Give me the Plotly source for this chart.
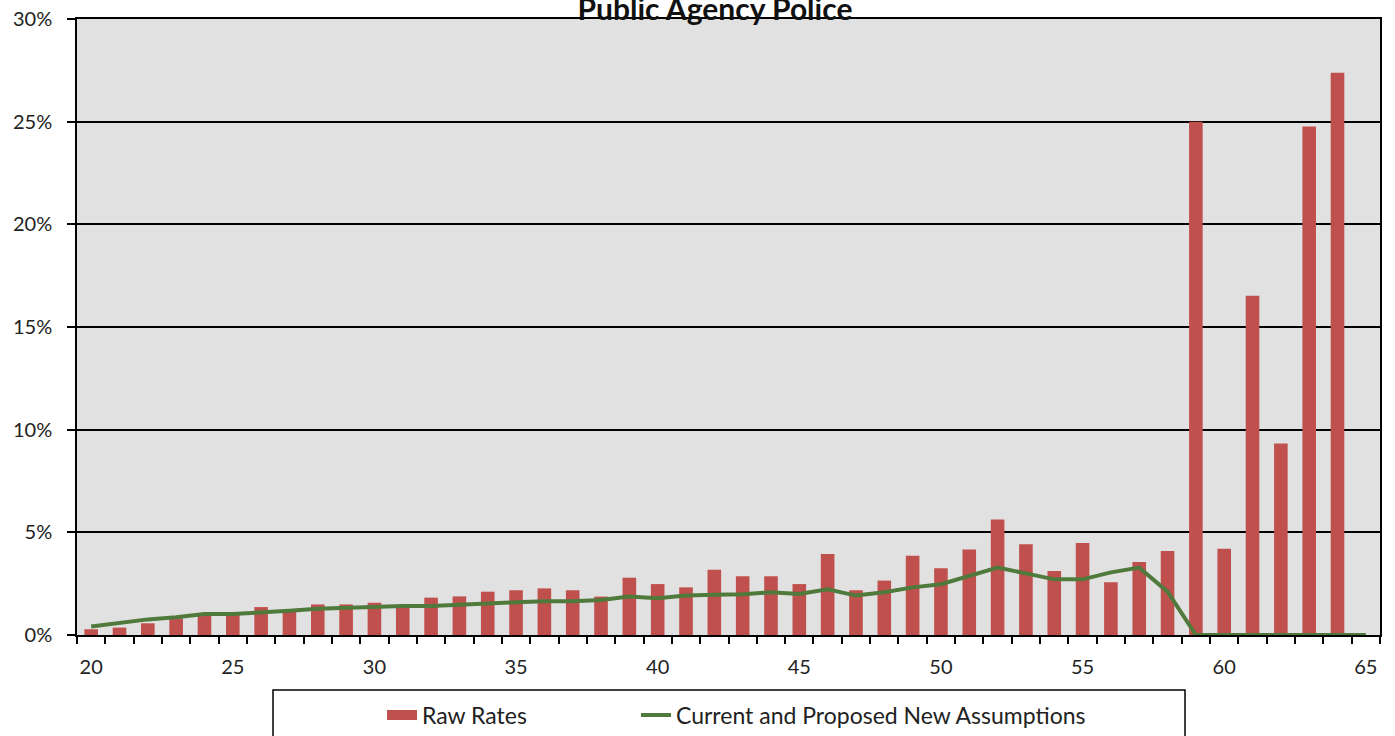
import plotly.graph_objects as go

ages = list(range(20, 66))

raw_rates_pct = [
    0.28, 0.36, 0.57, 0.81, 0.97, 1.00, 1.36, 1.14, 1.49, 1.49,
    1.57, 1.43, 1.82, 1.88, 2.11, 2.18, 2.27, 2.18, 1.87, 2.79,
    2.48, 2.32, 3.18, 2.86, 2.86, 2.48, 3.95, 2.18, 2.65, 3.86,
    3.25, 4.17, 5.63, 4.42, 3.12, 4.48, 2.57, 3.56, 4.09, 25.00,
    4.20, 16.52, 9.33, 24.77, 27.38, 0.00,
]

assumptions_pct = [
    0.41, 0.60, 0.76, 0.86, 1.02, 1.02, 1.09, 1.18, 1.28, 1.33,
    1.36, 1.41, 1.41, 1.48, 1.54, 1.59, 1.64, 1.64, 1.70, 1.87,
    1.79, 1.92, 1.96, 1.98, 2.08, 2.00, 2.23, 1.92, 2.08, 2.32,
    2.47, 2.85, 3.28, 3.00, 2.71, 2.71, 3.05, 3.28, 2.11, 0.00,
    0.00, 0.00, 0.00, 0.00, 0.00, 0.00,
]

x_tick_vals = [20, 25, 30, 35, 40, 45, 50, 55, 60, 65]
y_tick_vals = [0, 0.05, 0.10, 0.15, 0.20, 0.25, 0.30]

title_text = "Public Agency Police"
bar_name = "Raw Rates"
line_name = "Current and Proposed New Assumptions"

BAR_COLOR = "#C0504D"
LINE_COLOR = "#4F7A3C"
FONT = "Lato, 'Open Sans', sans-serif"

fig = go.Figure()
fig.add_trace(go.Bar(
    x=ages, y=[v / 100 for v in raw_rates_pct], name=bar_name,
    marker=dict(color=BAR_COLOR, line=dict(width=0)), width=0.48,
    showlegend=False, legendgroup="raw",
))
# legend entry for the bars (wide swatch like the original)
fig.add_trace(go.Scatter(
    x=[None], y=[None], name=bar_name, mode="lines",
    line=dict(color=BAR_COLOR, width=14), legendgroup="raw",
    legendwidth=209,
))
fig.add_trace(go.Scatter(
    x=ages, y=[v / 100 for v in assumptions_pct], name=line_name,
    mode="lines", line=dict(color=LINE_COLOR, width=4),
))

boundaries = [a - 0.5 for a in ages] + [ages[-1] + 0.5]

fig.update_layout(
    width=1395, height=736,
    margin=dict(l=77, r=15, t=19, b=101, autoexpand=False),
    paper_bgcolor="white", plot_bgcolor="#E1E1E1",
    font=dict(family=FONT, size=20, color="#222222"),
    showlegend=True,
    title=dict(text="<b>" + title_text + "</b>", x=715 / 1395, xanchor="center",
               yref="container", y=1 - 20 / 736, yanchor="bottom",
               font=dict(size=30, color="#111111", family=FONT)),
    legend=dict(orientation="h", x=(382 - 77) / 1303, xanchor="left", y=-0.13, yanchor="middle",
                bgcolor="rgba(0,0,0,0)", borderwidth=0,
                font=dict(size=23, family=FONT, color="#222222"),
                entrywidthmode="pixels"),
    hovermode=False,
)

fig.update_xaxes(
    range=[19.5, 65.5], tickmode="array", tickvals=x_tick_vals,
    ticks="outside", ticklen=0, tickcolor="black",
    ticklabelstandoff=13, automargin=False,
    minor=dict(tickmode="array", tickvals=boundaries, ticks="outside",
               ticklen=7, tickwidth=1.5, tickcolor="black", showgrid=False),
    showgrid=False, zeroline=False,
    showline=True, linecolor="black", linewidth=1.5, mirror=True,
)
fig.update_yaxes(
    range=[0, 0.30], tickmode="array", tickvals=y_tick_vals, tickformat=".0%",
    ticks="outside", ticklen=8, tickwidth=1.5, tickcolor="black",
    ticklabelstandoff=11, automargin=False,
    showgrid=True, gridcolor="black", gridwidth=1.5, zeroline=False,
    showline=True, linecolor="black", linewidth=1.5, mirror=True,
)

# legend frame
fig.add_shape(type="rect", xref="paper", yref="paper",
              x0=(273 - 77) / 1303, x1=(1185 - 77) / 1303,
              y0=-(690 - 635) / 616, y1=-(760 - 635) / 616,
              line=dict(color="black", width=1.5), fillcolor="rgba(0,0,0,0)",
              layer="above")

fig.write_html("out.html", config={"displayModeBar": False},
               post_script="document.body.style.margin='0';document.body.style.overflow='hidden';")
